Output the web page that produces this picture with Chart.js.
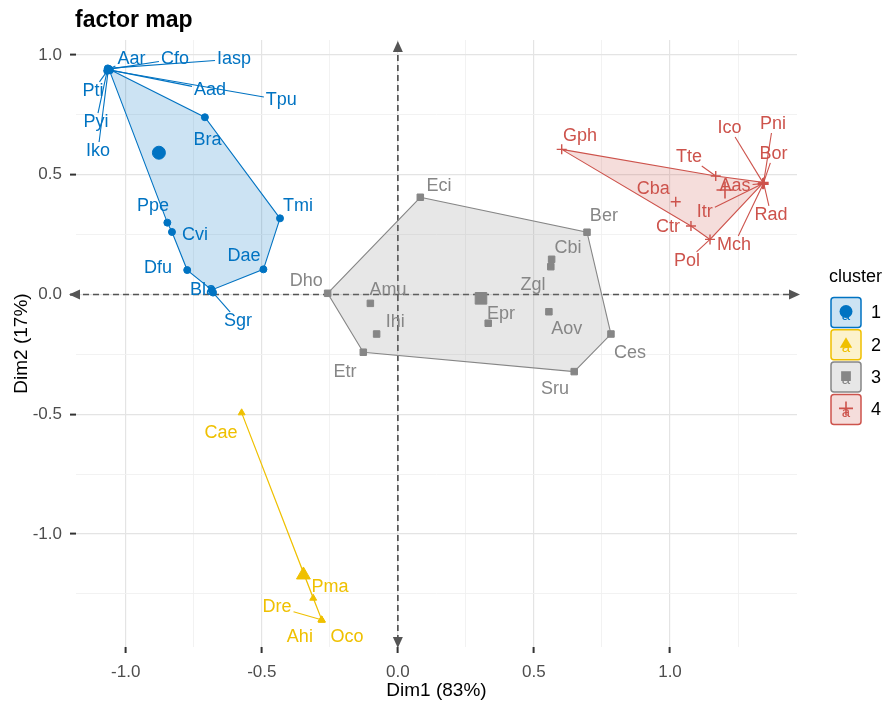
<!DOCTYPE html>
<html>
<head>
<meta charset="utf-8">
<script src="https://cdn.jsdelivr.net/npm/chart.js@4.4.1/dist/chart.umd.min.js"></script>
<style>
  html, body { margin: 0; padding: 0; background: #fff; }
</style>
</head>
<body>
<canvas id="myChart" width="891" height="706"></canvas>
<script>
// axis ranges and ticks
const xRange = [-1.1826, 1.4666];
const yRange = [-1.4718, 1.0626];
const xGridValues = [-1, -0.75, -0.5, -0.25, 0, 0.25, 0.5, 0.75, 1, 1.25];
const yGridValues = [-1.25, -1, -0.75, -0.5, -0.25, 0, 0.25, 0.5, 0.75, 1];
const majorValues = [-1, -0.5, 0, 0.5, 1];
const majorLabels = ['-1.0', '-0.5', '0.0', '0.5', '1.0'];

// cluster 1 (blue)
const c1Names = ['Aar','Cfo','Iasp','Aad','Tpu','Pti','Pyi','Iko','Bra','Tmi','Ppe','Cvi','Dae','Dfu','Bla','Sgr'];
const c1X = [-1.062,-1.064,-1.066,-1.060,-1.058,-1.066,-1.068,-1.064,-0.709,-0.433,-0.847,-0.830,-0.494,-0.774,-0.684,-0.679];
const c1Y = [0.942,0.940,0.944,0.938,0.936,0.936,0.934,0.938,0.740,0.318,0.300,0.261,0.105,0.102,0.019,0.008];
const c1LabelX = [-0.979,-0.819,-0.602,-0.690,-0.428,-1.120,-1.109,-1.102,-0.699,-0.367,-0.900,-0.745,-0.565,-0.881,-0.716,-0.587];
const c1LabelY = [0.983,0.983,0.983,0.854,0.812,0.850,0.720,0.599,0.645,0.370,0.370,0.248,0.161,0.111,0.019,-0.111];
const c1Hull = ['Aar','Bra','Tmi','Dae','Bla','Dfu','Cvi','Ppe'];
const c1Lines = ['Aar','Cfo','Iasp','Aad','Tpu','Pti','Pyi','Iko','Sgr'];
const c1Center = [-0.878, 0.592];

// cluster 2 (yellow)
const c2Names = ['Cae','Pma','Dre','Ahi','Oco'];
const c2X = [-0.574,-0.311,-0.281,-0.280,-0.279];
const c2Y = [-0.494,-1.268,-1.358,-1.359,-1.360];
const c2LabelX = [-0.650,-0.249,-0.444,-0.360,-0.187];
const c2LabelY = [-0.578,-1.221,-1.305,-1.430,-1.430];
const c2Hull = ['Cae','Pma','Oco'];
const c2Lines = ['Dre'];
const c2Center = [-0.347, -1.171];

// cluster 3 (grey)
const c3Names = ['Eci','Ber','Cbi','Zgl','Dho','Amu','Ihi','Epr','Aov','Ces','Etr','Sru'];
const c3X = [0.0825,0.695,0.565,0.562,-0.258,-0.101,-0.078,0.332,0.555,0.783,-0.127,0.648];
const c3Y = [0.406,0.260,0.147,0.116,0.005,-0.037,-0.165,-0.120,-0.072,-0.165,-0.241,-0.322];
const c3LabelX = [0.151,0.757,0.625,0.497,-0.337,-0.036,-0.010,0.379,0.621,0.853,-0.194,0.577];
const c3LabelY = [0.453,0.328,0.194,0.040,0.056,0.019,-0.115,-0.081,-0.144,-0.244,-0.324,-0.395];
const c3Hull = ['Eci','Ber','Ces','Sru','Etr','Dho'];
const c3Lines = [];
const c3Center = [0.3055, -0.016];

// cluster 4 (red)
const c4Names = ['Gph','Ico','Pni','Bor','Tte','Aas','Cba','Itr','Rad','Ctr','Mch','Pol'];
const c4X = [0.602,1.342,1.344,1.343,1.168,1.341,1.021,1.340,1.345,1.077,1.342,1.147];
const c4Y = [0.606,0.466,0.468,0.464,0.495,0.463,0.387,0.462,0.461,0.286,0.460,0.230];
const c4LabelX = [0.669,1.219,1.378,1.380,1.070,1.239,0.938,1.128,1.371,0.993,1.235,1.062];
const c4LabelY = [0.662,0.695,0.712,0.587,0.574,0.453,0.441,0.344,0.332,0.282,0.207,0.140];
const c4Hull = ['Gph','Tte','Pni','Pol','Ctr'];
const c4Lines = ['Ico','Pni','Bor','Tte','Aas','Itr','Rad','Mch','Pol'];
const c4Center = [1.202, 0.436];

const FONT = '"Liberation Sans", Arial, sans-serif';

const clusters = [
  { id: '1', color: '#0073C2', fill: 'rgba(0,115,194,0.2)', names: c1Names, x: c1X, y: c1Y, lx: c1LabelX, ly: c1LabelY,
    hull: c1Hull, lines: c1Lines, center: c1Center, style: 'circle', r: 3.5, cr: 6.5, bw: 1 },
  { id: '2', color: '#EFC000', fill: 'rgba(239,192,0,0.2)', names: c2Names, x: c2X, y: c2Y, lx: c2LabelX, ly: c2LabelY,
    hull: c2Hull, lines: c2Lines, center: c2Center, style: 'triangle', r: 4, cr: 8, bw: 1 },
  { id: '3', color: '#868686', fill: 'rgba(134,134,134,0.2)', names: c3Names, x: c3X, y: c3Y, lx: c3LabelX, ly: c3LabelY,
    hull: c3Hull, lines: c3Lines, center: c3Center, style: 'rect', r: 4.6, cr: 8.2, bw: 1 },
  { id: '4', color: '#CD534C', fill: 'rgba(205,83,76,0.2)', names: c4Names, x: c4X, y: c4Y, lx: c4LabelX, ly: c4LabelY,
    hull: c4Hull, lines: c4Lines, center: c4Center, style: 'cross', r: 5, cr: 8.5, bw: 1.4 }
];

const datasets = [];
clusters.forEach(c => {
  const hullPts = c.hull.map(n => { const k = c.names.indexOf(n); return { x: c.x[k], y: c.y[k] }; });
  hullPts.push(hullPts[0]);
  datasets.push({
    label: 'hull' + c.id, data: hullPts, showLine: true, fill: 'shape', tension: 0,
    borderColor: c.color, backgroundColor: c.fill, borderWidth: 1.1, pointRadius: 0, order: 5
  });
  datasets.push({
    label: 'points' + c.id, data: c.names.map((n, k) => ({ x: c.x[k], y: c.y[k] })),
    pointStyle: c.style, pointRadius: c.r, backgroundColor: c.color, borderColor: c.color,
    borderWidth: c.bw, showLine: false, order: 2
  });
  datasets.push({
    label: 'center' + c.id, data: [{ x: c.center[0], y: c.center[1] }],
    pointStyle: c.style, pointRadius: c.cr, backgroundColor: c.color, borderColor: c.color,
    borderWidth: c.style === 'cross' ? 1.6 : 1, showLine: false, order: 1
  });
});

function isMajor(v) { return majorValues.some(m => Math.abs(m - v) < 1e-6); }

function drawArrow(ctx, x1, y1, x2, y2) {
  // dashed line from (x1,y1) to (x2,y2) with heads at both ends
  const ang = Math.atan2(y2 - y1, x2 - x1);
  const L = 11, W = 5;
  ctx.save();
  ctx.strokeStyle = '#555555';
  ctx.fillStyle = '#555555';
  ctx.lineWidth = 1.7;
  ctx.setLineDash([6, 4]);
  ctx.beginPath();
  ctx.moveTo(x1 + Math.cos(ang) * 4, y1 + Math.sin(ang) * 4);
  ctx.lineTo(x2 - Math.cos(ang) * 4, y2 - Math.sin(ang) * 4);
  ctx.stroke();
  ctx.setLineDash([]);
  [[x2, y2, ang], [x1, y1, ang + Math.PI]].forEach(([tx, ty, a]) => {
    ctx.beginPath();
    ctx.moveTo(tx, ty);
    ctx.lineTo(tx - L * Math.cos(a) + W * Math.sin(a), ty - L * Math.sin(a) - W * Math.cos(a));
    ctx.lineTo(tx - L * Math.cos(a) - W * Math.sin(a), ty - L * Math.sin(a) + W * Math.cos(a));
    ctx.closePath();
    ctx.fill();
  });
  ctx.restore();
}

const axesArrows = {
  id: 'axesArrows',
  beforeDatasetsDraw(chart) {
    const { ctx, chartArea: a, scales } = chart;
    const x0 = scales.x.getPixelForValue(0);
    const y0 = scales.y.getPixelForValue(0);
    drawArrow(ctx, a.left - 7, y0, a.right + 3, y0);
    drawArrow(ctx, x0, a.top + 1, x0, a.bottom + 1);
  }
};

const pointLabels = {
  id: 'pointLabels',
  afterDatasetsDraw(chart) {
    const { ctx, scales } = chart;
    ctx.save();
    ctx.font = '18px ' + FONT;
    ctx.textAlign = 'center';
    ctx.textBaseline = 'middle';
    clusters.forEach(c => {
      // leader segments
      c.lines.forEach(n => {
        const k = c.names.indexOf(n);
        const px = scales.x.getPixelForValue(c.x[k]);
        const py = scales.y.getPixelForValue(c.y[k]);
        const lx = scales.x.getPixelForValue(c.lx[k]);
        const ly = scales.y.getPixelForValue(c.ly[k]);
        const w = ctx.measureText(n).width / 2 + 2, h = 9;
        const dx = lx - px, dy = ly - py;
        const t = Math.min(dx !== 0 ? w / Math.abs(dx) : Infinity, dy !== 0 ? h / Math.abs(dy) : Infinity);
        if (t >= 1) return;
        ctx.strokeStyle = c.color;
        ctx.lineWidth = 1.1;
        ctx.beginPath();
        ctx.moveTo(px, py);
        ctx.lineTo(lx - dx * t, ly - dy * t);
        ctx.stroke();
      });
      ctx.fillStyle = c.color;
      c.names.forEach((n, k) => {
        ctx.fillText(n, scales.x.getPixelForValue(c.lx[k]), scales.y.getPixelForValue(c.ly[k]));
      });
    });
    ctx.restore();
  }
};

function drawSymbol(ctx, style, x, y, r, color) {
  ctx.fillStyle = color;
  ctx.strokeStyle = color;
  ctx.beginPath();
  if (style === 'circle') {
    ctx.arc(x, y, r, 0, Math.PI * 2);
    ctx.fill();
  } else if (style === 'triangle') {
    ctx.moveTo(x, y - r);
    ctx.lineTo(x + r * 0.95, y + r * 0.6);
    ctx.lineTo(x - r * 0.95, y + r * 0.6);
    ctx.closePath();
    ctx.fill();
  } else if (style === 'rect') {
    ctx.rect(x - r * 0.75, y - r * 0.75, r * 1.5, r * 1.5);
    ctx.fill();
  } else {
    ctx.lineWidth = 1.6;
    ctx.moveTo(x - r, y); ctx.lineTo(x + r, y);
    ctx.moveTo(x, y - r); ctx.lineTo(x, y + r);
    ctx.stroke();
  }
}

const textLayer = {
  id: 'textLayer',
  afterDraw(chart) {
    const { ctx, chartArea: a } = chart;
    ctx.save();
    ctx.fillStyle = '#000';
    ctx.font = 'bold 23px ' + FONT;
    ctx.textAlign = 'left';
    ctx.textBaseline = 'alphabetic';
    ctx.fillText('factor map', 75, 27);

    ctx.font = '19px ' + FONT;
    ctx.textAlign = 'center';
    ctx.textBaseline = 'middle';
    ctx.fillText('Dim1 (83%)', (a.left + a.right) / 2, 691);
    ctx.save();
    ctx.translate(22, (a.top + a.bottom) / 2);
    ctx.rotate(-Math.PI / 2);
    ctx.fillText('Dim2 (17%)', 0, 0);
    ctx.restore();

    // legend
    ctx.font = '18px ' + FONT;
    ctx.textAlign = 'left';
    ctx.fillText('cluster', 829, 277);
    clusters.forEach((c, i) => {
      const bx = 831, by = 297.5 + i * 32.3, s = 30;
      ctx.fillStyle = c.fill;
      ctx.strokeStyle = c.color;
      ctx.lineWidth = 1.5;
      ctx.beginPath();
      ctx.roundRect(bx, by, s, s, 3);
      ctx.fill();
      ctx.stroke();
      ctx.font = '15px ' + FONT;
      ctx.textAlign = 'center';
      ctx.fillStyle = c.color;
      ctx.fillText('a', bx + s / 2, by + s / 2 + 3);
      drawSymbol(ctx, c.style, bx + s / 2, by + s / 2 - 1, c.style === 'cross' ? 7 : 6.5, c.color);
      ctx.fillStyle = '#000';
      ctx.font = '18px ' + FONT;
      ctx.textAlign = 'left';
      ctx.fillText(c.id, 871, by + s / 2 + 1);
    });
    ctx.restore();
  }
};

function gridOpts() {
  return {
    color: ctx => isMajor(ctx.tick.value) ? '#E4E4E4' : '#F0F0F0',
    lineWidth: ctx => isMajor(ctx.tick.value) ? 1.2 : 0.9,
    tickColor: ctx => isMajor(ctx.tick.value) ? '#333333' : 'rgba(0,0,0,0)',
    tickLength: 6,
    tickWidth: 2
  };
}

function tickLabel(value) {
  const k = majorValues.findIndex(m => Math.abs(m - value) < 1e-6);
  return k >= 0 ? majorLabels[k] : '';
}

const ctx = document.getElementById('myChart').getContext('2d');
const myChart = new Chart(ctx, {
  type: 'scatter',
  data: { datasets: datasets },
  options: {
    responsive: false,
    devicePixelRatio: 1,
    animation: false,
    events: [],
    layout: { padding: { left: 0, right: 94, top: 40, bottom: 0 } },
    plugins: { legend: { display: false }, tooltip: { enabled: false }, title: { display: false } },
    scales: {
      x: {
        type: 'linear', min: xRange[0], max: xRange[1],
        afterBuildTicks: s => { s.ticks = xGridValues.map(v => ({ value: v })); },
        afterFit: s => { s.height = 59; },
        grid: gridOpts(),
        border: { display: false },
        ticks: { autoSkip: false, maxRotation: 0, padding: 9, color: '#4D4D4D',
          font: { family: FONT, size: 17 }, callback: v => tickLabel(v) }
      },
      y: {
        type: 'linear', min: yRange[0], max: yRange[1],
        afterBuildTicks: s => { s.ticks = yGridValues.map(v => ({ value: v })); },
        afterFit: s => { s.width = 76; },
        grid: gridOpts(),
        border: { display: false },
        ticks: { autoSkip: false, padding: 8, color: '#4D4D4D',
          font: { family: FONT, size: 17 }, callback: v => tickLabel(v) }
      }
    }
  },
  plugins: [axesArrows, pointLabels, textLayer]
});
</script>
</body>
</html>
